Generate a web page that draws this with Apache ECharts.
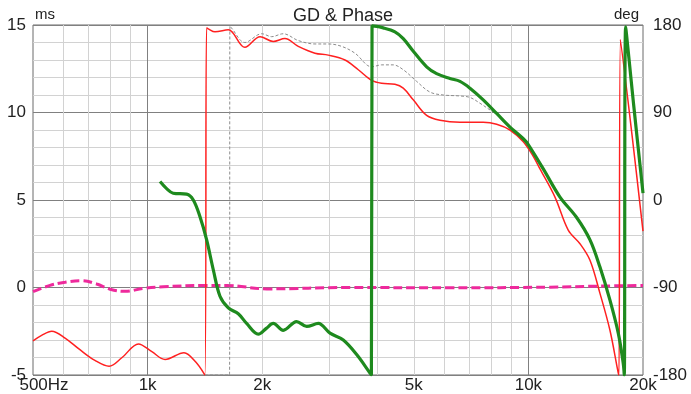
<!DOCTYPE html>
<html><head><meta charset="utf-8">
<script src="https://cdn.jsdelivr.net/npm/echarts@6/dist/echarts.min.js"></script>
<style>html,body{margin:0;padding:0;background:#fff}#c{width:691px;height:394px}</style>
</head><body><div id="c"></div>
<script>
// ---- data ----
const freqMinorGrid = [600,700,800,900,2000,3000,4000,5000,6000,7000,8000,9000];
const freqMajorGrid = [1000,10000];
const freqLabels = [500,1000,2000,5000,10000,20000];

// group delay (ms), left axis
const gdMs = [[500,-0.24],[554,0.12],[607,0.3],[670,0.39],[735,0.2],[797,-0.1],[872,-0.22],[975,-0.05],[1099,0.04],[1400,0.12],[1613,0.12],[2054,-0.08],[3400,0],[6224,-0.02],[11396,0.02],[15417,0.08],[20000,0.12]];

// phase (deg), right axis
const greyPhase = [[1414,-180],[1641,-180],[1645,179],[1660,177],[1801,162],[1994,171],[2117,168],[2271,171],[2487,164],[2751,160.5],[2982,160.5],[3234,158],[3504,151],[3878,137],[4118,139],[4416,139],[4692,134],[5088,122],[5514,111],[5977,108],[6612,107],[7025,105.5],[7464,99.5],[7929,92.6],[8254,88],[8947,74],[9697,62]];

const redPhase = [[500,-145],[528,-139],[560,-135],[607,-142],[664,-154],[727,-165],[792,-171],[857,-162],[946,-148],[1026,-156],[1111,-164],[1246,-157],[1340,-167],[1414,-180],[1428,177],[1443,176],[1503,173],[1629,175],[1801,157],[1974,168],[2138,163],[2294,166],[2487,158],[2751,151],[2982,149],[3298,144],[3575,134],[3878,123],[4118,120],[4462,119],[4692,115],[4985,103],[5405,87],[5859,82],[6612,80],[7610,80],[8254,78],[8947,72],[9697,60],[10299,45],[10727,32],[11745,3],[12724,-31],[13662,-45],[14514,-62],[15417,-96],[16377,-134],[17222,-178],[17300,-180],[17450,165],[18700,68],[20000,-32]];

const greenPhase = [[1078,19],[1120,12],[1167,7],[1266,6],[1318,0],[1372,-17],[1429,-41],[1488,-72],[1549,-99],[1629,-111],[1730,-117],[1820,-127],[1953,-138],[2050,-132],[2138,-127],[2271,-134],[2462,-125],[2617,-130],[2807,-127],[3013,-137],[3265,-144],[3540,-159],[3837,-178],[3870,-180],[3885,179],[4158,177],[4462,173],[4692,166],[4985,153],[5405,137],[5741,130],[6224,125],[6612,122],[7025,115],[7610,103],[8254,89],[8947,75],[9697,63],[9992,57],[10942,32],[12106,3],[13390,-18],[14514,-41],[15417,-69],[16377,-103],[17222,-137],[17746,-168],[17860,-180],[18003,178],[18900,98],[20000,7]];

// ---- chart ----
const FONT = 'Liberation Sans';
const TXT = '#222';
const chart = echarts.init(document.getElementById('c'), null, {renderer:'canvas'});
chart.setOption({
  animation: false,
  backgroundColor: '#fff',
  title: {text:'GD & Phase', left:338, top:2, textAlign:'center',
    textStyle:{fontSize:18, fontWeight:'normal', color:TXT, fontFamily:FONT}},
  grid: {left:33, right:48, top:25, bottom:19, show:true, borderColor:'#6a6a6a', borderWidth:1, containLabel:false},
  xAxis: [
    {type:'log', logBase:10, min:500, max:20000, position:'bottom',
     axisLine:{show:false}, axisTick:{show:false, customValues: freqMinorGrid},
     axisLabel:{customValues: freqLabels, margin:2, fontSize:17, fontFamily:FONT, color:TXT,
       formatter: v => v === 500 ? '{h|500Hz}' : (v >= 1000 ? (v/1000) + 'k' : String(v)),
       rich:{h:{fontSize:17, fontFamily:FONT, color:TXT, padding:[0,0,0,22]}}},
     splitLine:{show:true, lineStyle:{color:'#d2d2d2', width:1}}},
    {type:'log', logBase:10, min:500, max:20000, position:'top',
     axisLine:{show:false}, axisTick:{show:false, customValues: freqMajorGrid},
     axisLabel:{show:false},
     splitLine:{show:true, lineStyle:{color:'#808080', width:1}}}
  ],
  yAxis: [
    {type:'value', min:-5, max:15, interval:5, position:'left',
     name:'ms', nameLocation:'end', nameGap:3,
     nameTextStyle:{align:'left', fontSize:15, fontFamily:FONT, color:TXT, padding:[0,0,0,2]},
     axisLine:{show:false}, axisTick:{show:false},
     axisLabel:{margin:7, fontSize:17, fontFamily:FONT, color:TXT},
     splitLine:{show:true, lineStyle:{color:'#808080', width:1}},
     minorTick:{show:false, splitNumber:5},
     minorSplitLine:{show:true, lineStyle:{color:'#d2d2d2', width:1}}},
    {type:'value', min:-180, max:180, interval:90, position:'right',
     name:'deg', nameLocation:'end', nameGap:3,
     nameTextStyle:{align:'right', fontSize:15, fontFamily:FONT, color:TXT, padding:[0,4,0,0]},
     axisLine:{show:false}, axisTick:{show:false},
     axisLabel:{margin:10, fontSize:17, fontFamily:FONT, color:TXT},
     splitLine:{show:false}}
  ],
  series: [
    {name:'GD', type:'line', xAxisIndex:0, yAxisIndex:0, data:gdMs, showSymbol:false, smooth:0.4,
     lineStyle:{color:'#ee2a9c', width:3, type:[9,4]}},
    {name:'Phase ref', type:'line', xAxisIndex:0, yAxisIndex:1, data:greyPhase, showSymbol:false, smooth:0.35,
     lineStyle:{color:'#8c8c8c', width:1, type:[3,2]}},
    {name:'Phase 1', type:'line', xAxisIndex:0, yAxisIndex:1, data:redPhase, showSymbol:false, smooth:0.35,
     lineStyle:{color:'#ff2020', width:1.5}},
    {name:'Phase 2', type:'line', xAxisIndex:0, yAxisIndex:1, data:greenPhase, showSymbol:false, smooth:0.35,
     lineStyle:{color:'#1e8a1e', width:3.2}}
  ]
});
</script>
</body></html>
